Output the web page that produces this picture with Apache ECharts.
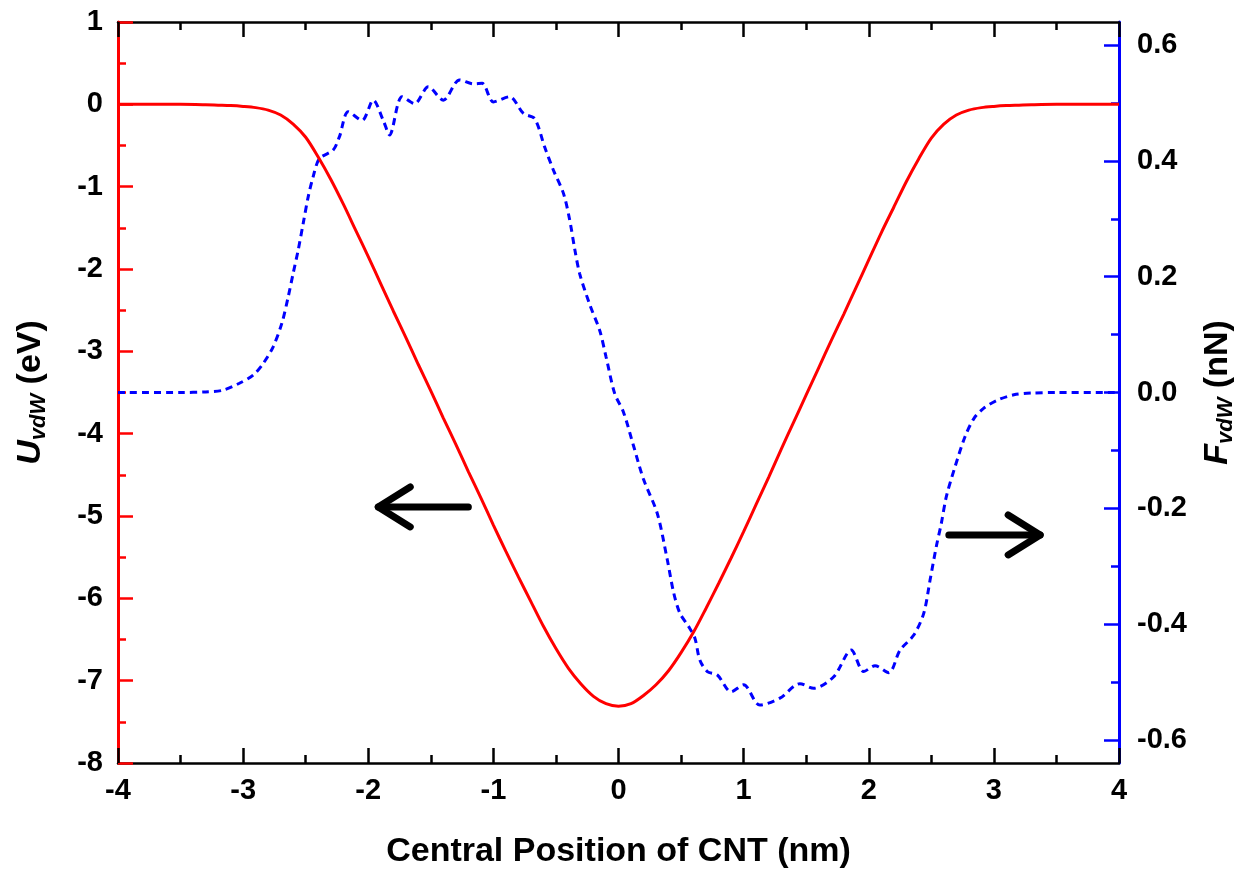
<!DOCTYPE html>
<html>
<head>
<meta charset="utf-8">
<script src="https://cdn.jsdelivr.net/npm/echarts@6/dist/echarts.min.js"></script>
<style>
  html, body { margin: 0; padding: 0; background: #fff; }
  #chart { width: 1256px; height: 877px; }
</style>
</head>
<body>
<div id="chart"></div>
<script>
// vdW potential energy U (eV) vs central position (nm)
const potentialX = [-4.0, -3.5, -3.3, -3.2, -3.1, -3.0, -2.9, -2.8, -2.7, -2.6, -2.5, -2.4, -2.3, -2.2, -2.1,
  -2.0, -1.9, -1.8, -1.7, -1.6, -1.5, -1.4, -1.3, -1.2, -1.1, -1.0, -0.9, -0.8, -0.7, -0.6, -0.5,
  -0.4, -0.3, -0.2, -0.1, 0.0, 0.1, 0.2, 0.3, 0.4, 0.5, 0.6, 0.7, 0.8, 0.9, 1.0, 1.1, 1.2, 1.3,
  1.4, 1.5, 1.6, 1.7, 1.8, 1.9, 2.0, 2.1, 2.2, 2.3, 2.4, 2.5, 2.6, 2.7, 2.8, 2.9, 3.0, 3.1, 3.2,
  3.3, 3.5, 4.0]
const potentialU = [0, 0, -0.005, -0.01, -0.015, -0.025, -0.04, -0.07, -0.13, -0.24, -0.40, -0.64, -0.91, -1.21, -1.53,
  -1.85, -2.18, -2.51, -2.83, -3.16, -3.48, -3.81, -4.13, -4.46, -4.78, -5.11, -5.43, -5.74, -6.04, -6.34, -6.61,
  -6.85, -7.04, -7.19, -7.28, -7.31, -7.28, -7.18, -7.05, -6.88, -6.66, -6.41, -6.12, -5.82, -5.51, -5.19, -4.86, -4.53, -4.19,
  -3.86, -3.53, -3.20, -2.87, -2.55, -2.22, -1.89, -1.56, -1.25, -0.94, -0.66, -0.41, -0.24, -0.13, -0.07, -0.04, -0.025, -0.015, -0.01,
  -0.005, 0, 0]

// vdW force F (nN) vs central position (nm)
const forceX = [-4.0, -3.5, -3.3, -3.16, -3.03, -2.92, -2.84, -2.76, -2.69, -2.64, -2.60, -2.56, -2.52, -2.48, -2.44,
  -2.39, -2.28, -2.23, -2.16, -2.05, -1.96, -1.88, -1.83, -1.73, -1.63, -1.52, -1.40, -1.27, -1.16, -1.09,
  -1.00, -0.87, -0.76, -0.67, -0.59, -0.52, -0.44, -0.39, -0.35, -0.31, -0.23, -0.15, -0.10, -0.03, 0.04,
  0.12, 0.20, 0.31, 0.39, 0.44, 0.49, 0.56, 0.61, 0.65, 0.71, 0.79, 0.90, 1.00, 1.13, 1.29, 1.45, 1.56,
  1.72, 1.86, 1.96, 2.05, 2.16, 2.25, 2.36, 2.44, 2.49, 2.54, 2.58, 2.62, 2.69, 2.77, 2.84, 2.92, 3.03,
  3.16, 3.3, 3.5, 4.0]
const forceF = [0, 0, 0.001, 0.004, 0.016, 0.03, 0.05, 0.079, 0.12, 0.165, 0.206, 0.246, 0.292, 0.338, 0.373,
  0.404, 0.419, 0.442, 0.485, 0.47, 0.505, 0.47, 0.445, 0.511, 0.499, 0.528, 0.505, 0.54, 0.533, 0.534,
  0.502, 0.511, 0.482, 0.473, 0.424, 0.384, 0.344, 0.298, 0.248, 0.205, 0.152, 0.107, 0.062, -0.002, -0.034,
  -0.092, -0.15, -0.209, -0.289, -0.345, -0.381, -0.404, -0.424, -0.462, -0.482, -0.488, -0.517, -0.505, -0.54, -0.528, -0.503, -0.511,
  -0.491, -0.445, -0.482, -0.472, -0.484, -0.445, -0.419, -0.381, -0.324, -0.266, -0.226, -0.18, -0.128, -0.076, -0.045, -0.027, -0.013,
  -0.004, -0.001, 0, 0]

const forceLabels = [-0.6, -0.4, -0.2, 0, 0.2, 0.4, 0.6]
const forceMinor = [-0.5, -0.3, -0.1, 0.1, 0.3, 0.5]

const FONT = '"Liberation Sans", Arial, sans-serif'
const RED = '#ff0000'
const BLUE = '#0000ff'

const chart = echarts.init(document.getElementById('chart'))

const labelStyle = { color: '#000', fontSize: 29, fontWeight: 'bold', fontFamily: FONT }

const titleRich = {
  i: { fontSize: 34, fontWeight: 'bold', fontStyle: 'italic', fontFamily: FONT, color: '#000' },
  s: { fontSize: 22, fontWeight: 'bold', fontStyle: 'italic', fontFamily: FONT, color: '#000', padding: [16, 0, 0, 0] },
  n: { fontSize: 34, fontWeight: 'bold', fontFamily: FONT, color: '#000' }
}

const option = {
  animation: false,
  backgroundColor: '#fff',
  grid: { left: 118, right: 137, top: 22, bottom: 114 },
  xAxis: [
    {
      type: 'value', min: -4, max: 4, interval: 1, position: 'bottom',
      axisLine: { onZero: false, lineStyle: { color: '#000', width: 2.5 } },
      axisTick: { inside: true, length: 15, lineStyle: { color: '#000', width: 2.5 } },
      minorTick: { show: true, splitNumber: 2, length: 8, lineStyle: { color: '#000', width: 2.5 } },
      splitLine: { show: false },
      axisLabel: { ...labelStyle, margin: 13 },
      name: 'Central Position of CNT (nm)',
      nameLocation: 'middle',
      nameGap: 72,
      nameTextStyle: { color: '#000', fontSize: 34, fontWeight: 'bold', fontFamily: FONT }
    },
    {
      type: 'value', min: -4, max: 4, interval: 1, position: 'top',
      axisLine: { onZero: false, lineStyle: { color: '#000', width: 2.5 } },
      axisTick: { inside: true, length: 15, lineStyle: { color: '#000', width: 2.5 } },
      minorTick: { show: true, splitNumber: 2, length: 8, lineStyle: { color: '#000', width: 2.5 } },
      splitLine: { show: false },
      axisLabel: { show: false }
    }
  ],
  yAxis: [
    {
      type: 'value', min: -8, max: 1, interval: 1, position: 'left',
      axisLine: { onZero: false, lineStyle: { color: RED, width: 3 } },
      axisTick: { inside: true, length: 15, lineStyle: { color: RED, width: 2.5 } },
      minorTick: { show: true, splitNumber: 2, length: 8, lineStyle: { color: RED, width: 2.5 } },
      splitLine: { show: false },
      axisLabel: { ...labelStyle, margin: 15 },
      name: '{i|U}{s|vdW}{n| (eV)}',
      nameLocation: 'middle',
      nameRotate: 90,
      nameGap: 68,
      nameTextStyle: { rich: titleRich }
    },
    {
      type: 'value', min: -0.64, max: 0.64, position: 'right',
      axisLine: { onZero: false, lineStyle: { color: BLUE, width: 3 } },
      axisTick: { inside: true, length: 15, customValues: forceLabels, lineStyle: { color: BLUE, width: 2.5 } },
      splitLine: { show: false },
      axisLabel: { ...labelStyle, margin: 18, customValues: forceLabels, formatter: v => v.toFixed(1) },
      name: '{i|F}{s|vdW}{n| (nN)}',
      nameLocation: 'middle',
      nameRotate: 90,
      nameGap: 80,
      nameTextStyle: { rich: titleRich }
    },
    {
      type: 'value', min: -0.64, max: 0.64, position: 'right',
      axisLine: { show: false, onZero: false },
      axisTick: { inside: true, length: 8, customValues: forceMinor, lineStyle: { color: BLUE, width: 2.5 } },
      splitLine: { show: false },
      axisLabel: { show: false }
    }
  ],
  series: [
    {
      type: 'line', xAxisIndex: 0, yAxisIndex: 0,
      data: potentialX.map((x, i) => [x, potentialU[i]]),
      smooth: 0.3, showSymbol: false,
      lineStyle: { color: RED, width: 3 }, z: 3
    },
    {
      type: 'line', xAxisIndex: 0, yAxisIndex: 1,
      data: forceX.map((x, i) => [x, forceF[i]]),
      smooth: 0.3, showSymbol: false,
      lineStyle: { color: BLUE, width: 3, type: [7, 5] }, z: 2
    }
  ]
}

chart.setOption(option)

// arrows pointing to each curve's axis
function arrow(from, to) {
  const a = chart.convertToPixel({ xAxisIndex: 0, yAxisIndex: 0 }, from)
  const b = chart.convertToPixel({ xAxisIndex: 0, yAxisIndex: 0 }, to)
  const dir = Math.sign(b[0] - a[0])
  const style = { stroke: '#000', lineWidth: 7, lineCap: 'round', lineJoin: 'round', fill: null }
  return [
    { type: 'polyline', shape: { points: [a, b] }, style },
    { type: 'polyline', shape: { points: [[b[0] - dir * 32, b[1] - 20], b, [b[0] - dir * 32, b[1] + 20]] }, style }
  ]
}

chart.setOption({
  graphic: [
    ...arrow([-1.2, -4.89], [-1.92, -4.89]),
    ...arrow([2.64, -5.23], [3.37, -5.23])
  ]
})
</script>
</body>
</html>
